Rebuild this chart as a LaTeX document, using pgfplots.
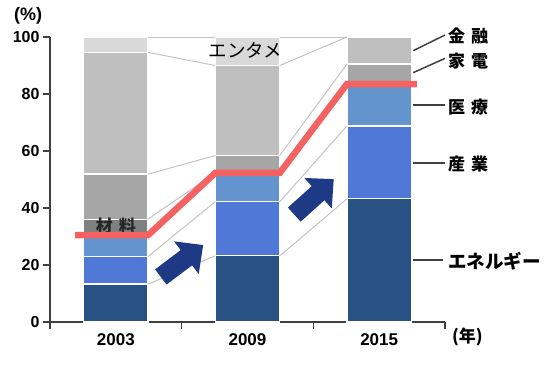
\documentclass[border=0pt]{standalone}
\usepackage{pgfplots}
\pgfplotsset{compat=1.18}
\usepackage{fontspec}
\setmainfont{Liberation Sans}
\newfontfamily\jp{Noto Sans CJK JP}
\definecolor{cEne}{RGB}{40,82,132}
\definecolor{cInd}{RGB}{80,120,214}
\definecolor{cMed}{RGB}{100,148,205}
\definecolor{cMat}{RGB}{128,128,128}
\definecolor{cHome}{RGB}{166,166,166}
\definecolor{cFin}{RGB}{191,191,191}
\definecolor{cEnt}{RGB}{217,217,217}
\definecolor{cRed}{RGB}{243,97,97}
\definecolor{cConn}{RGB}{195,195,195}
\definecolor{cAx}{RGB}{64,64,64}
\definecolor{cArrow}{RGB}{31,58,133}
\begin{document}
\begin{tikzpicture}
\path[use as bounding box] (-50pt,-43pt) rectangle (500pt,322pt);
\begin{axis}[
  at={(0pt,0pt)}, anchor=south west,
  scale only axis, width=395pt, height=285pt,
  xmin=-0.5, xmax=2.5, ymin=0, ymax=100,
  ybar stacked, bar width=0.49,
  axis x line*=bottom, axis y line*=left,
  axis line style={draw=cAx, line width=1.6pt},
  tick style={draw=cAx, line width=1.6pt},
  tick align=outside, major tick length=7pt,
  xtick={-0.5,0.5,1.5,2.5}, xticklabels={},
  extra x ticks={0,1,2}, extra x tick labels={2003,2009,2015},
  extra x tick style={major tick length=0pt},
  ytick={0,20,40,60,80,100},
  yticklabel style={font=\bfseries\fontsize{16}{16}\selectfont, text=black},
  xticklabel style={font=\bfseries\fontsize{17}{17}\selectfont, text=black, yshift=-8pt},
  /pgf/number format/assume math mode=true,
]
\addplot[fill=cEne, draw=white, line width=1.2pt] coordinates {(0,13.3) (1,23.2) (2,43.2)};
\addplot[fill=cInd, draw=white, line width=1.2pt] coordinates {(0,9.7) (1,19.0) (2,25.6)};
\addplot[fill=cMed, draw=white, line width=1.2pt] coordinates {(0,7.5) (1,10.1) (2,14.7)};
\addplot[fill=cMat, draw=white, line width=1.2pt] coordinates {(0,5.6) (1,0) (2,0)};
\addplot[fill=cHome, draw=white, line width=1.2pt] coordinates {(0,15.8) (1,6.1) (2,7.0)};
\addplot[fill=cFin, draw=white, line width=1.2pt] coordinates {(0,42.7) (1,31.6) (2,9.5)};
\addplot[fill=cEnt, draw=white, line width=1.2pt] coordinates {(0,5.4) (1,10.0) (2,0)};
\end{axis}
\begin{axis}[
  at={(0pt,0pt)}, anchor=south west,
  scale only axis, width=395pt, height=285pt,
  xmin=-0.5, xmax=2.5, ymin=0, ymax=100,
  hide axis, clip=false,
]
% connection lines 2003 -> 2009
\addplot[cConn, line width=1pt] coordinates {(0.245,13.3) (0.755,23.2)};
\addplot[cConn, line width=1pt] coordinates {(0.245,23.0) (0.755,42.2)};
\addplot[cConn, line width=1pt] coordinates {(0.245,36.1) (0.755,52.3)};
\addplot[cConn, line width=1pt] coordinates {(0.245,51.9) (0.755,58.4)};
\addplot[cConn, line width=1pt] coordinates {(0.245,94.6) (0.755,90.0)};
\addplot[cConn, line width=1pt] coordinates {(0.245,100) (0.755,100)};
% connection lines 2009 -> 2015
\addplot[cConn, line width=1pt] coordinates {(1.245,23.2) (1.755,43.2)};
\addplot[cConn, line width=1pt] coordinates {(1.245,42.2) (1.755,68.8)};
\addplot[cConn, line width=1pt] coordinates {(1.245,52.3) (1.755,83.5)};
\addplot[cConn, line width=1pt] coordinates {(1.245,58.4) (1.755,90.5)};
\addplot[cConn, line width=1pt] coordinates {(1.245,90.0) (1.755,100)};
\addplot[cConn, line width=1pt] coordinates {(1.245,100) (1.755,100)};
% label in 2003 bar
\node[font=\jp\bfseries\fontsize{17}{17}\selectfont, inner sep=0pt, text=black!85] at (axis cs:0,33.8) {材\hspace{0.35em}料};
% red line
\addplot[cRed, line width=6.5pt] coordinates {(-0.31,30.5) (0.245,30.5) (0.755,52.3) (1.245,52.3) (1.755,83.5) (2.287,83.5)};
\node[font=\jp\fontsize{18.5}{18.5}\selectfont, inner sep=0pt] at (axis cs:0.985,95.4) {エンタメ};
% right leaders
\addplot[cAx, line width=1.5pt] coordinates {(2.259,95.2) (2.5,100.7)};
\addplot[cAx, line width=1.5pt] coordinates {(2.259,87.5) (2.5,92.5)};
\addplot[cAx, line width=1.5pt] coordinates {(2.259,76.1) (2.5,76.1)};
\addplot[cAx, line width=1.5pt] coordinates {(2.259,55.8) (2.5,55.8)};
\addplot[cAx, line width=1.5pt] coordinates {(2.259,21.75) (2.485,21.75)};
\node[font=\jp\bfseries\fontsize{17}{17}\selectfont, inner sep=0pt, anchor=west] at (axis cs:2.523,100.35) {金\hspace{0.35em}融};
\node[font=\jp\bfseries\fontsize{17}{17}\selectfont, inner sep=0pt, anchor=west] at (axis cs:2.523,91.6) {家\hspace{0.35em}電};
\node[font=\jp\bfseries\fontsize{17}{17}\selectfont, inner sep=0pt, anchor=west] at (axis cs:2.523,75.3) {医\hspace{0.35em}療};
\node[font=\jp\bfseries\fontsize{17}{17}\selectfont, inner sep=0pt, anchor=west] at (axis cs:2.523,55.4) {産\hspace{0.35em}業};
\node[font=\jp\bfseries\fontsize{18.5}{18.5}\selectfont, inner sep=0pt, anchor=west] at (axis cs:2.523,21.2) {エネルギー};
\node[font=\bfseries\fontsize{18}{18}\selectfont, inner sep=0pt] at (axis cs:-0.667,107.4) {(\%)};
\node[font=\jp\bfseries\fontsize{17}{17}\selectfont, inner sep=0pt, anchor=west] at (axis cs:2.553,-5.26) {(年)};
\coordinate (a1) at (axis cs:0.5025,21.4);
\coordinate (a2) at (axis cs:1.505,43.9);
\end{axis}
\fill[cArrow, shift={(a1)}, rotate=37] (-26.5pt,-9.5pt) -- (5.5pt,-9.5pt) -- (5.5pt,-20.5pt) -- (26.5pt,0pt) -- (5.5pt,20.5pt) -- (5.5pt,9.5pt) -- (-26.5pt,9.5pt) -- cycle;
\fill[cArrow, shift={(a2)}, rotate=42] (-26.5pt,-9.5pt) -- (5.5pt,-9.5pt) -- (5.5pt,-20.5pt) -- (26.5pt,0pt) -- (5.5pt,20.5pt) -- (5.5pt,9.5pt) -- (-26.5pt,9.5pt) -- cycle;
\end{tikzpicture}
\end{document}
